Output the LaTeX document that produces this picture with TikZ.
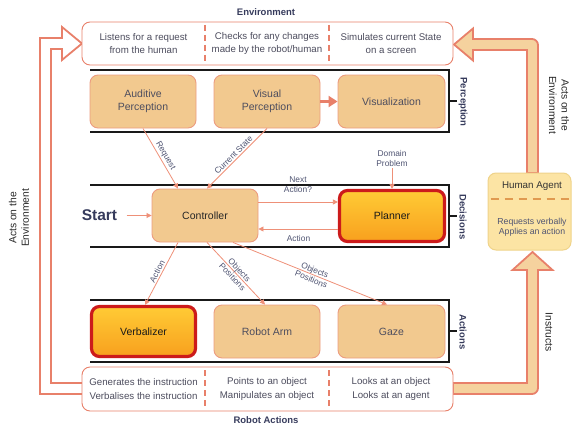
\documentclass[tikz,border=0pt]{standalone}
\usepackage{fontspec}
\setmainfont{Liberation Sans}
\usetikzlibrary{arrows.meta}
\definecolor{salmon}{HTML}{E8806A}
\definecolor{lsalmon}{HTML}{EE9078}
\definecolor{nodefill}{HTML}{F2C98F}
\definecolor{nodeborder}{HTML}{EC9C80}
\definecolor{arrfill}{HTML}{F5D29E}
\definecolor{hafill}{HTML}{FCE4A4}
\definecolor{haborder}{HTML}{EFD38A}
\definecolor{hotred}{HTML}{CC1B1B}
\definecolor{gradtop}{HTML}{FFCB35}
\definecolor{gradbot}{HTML}{F8A01E}
\definecolor{navy}{HTML}{363B5C}
\definecolor{txtgray}{HTML}{4D4D5E}
\definecolor{labcol}{HTML}{4F5472}
\definecolor{dashor}{HTML}{E09A50}
\begin{document}
\begin{tikzpicture}[x=1pt,y=-1pt,
  mod/.style={draw=nodeborder, fill=nodefill, rounded corners=8pt, minimum width=106pt, minimum height=53pt,
    font=\fontsize{10.5}{13}\selectfont, text=txtgray, align=center, line width=0.9pt},
  hot/.style={mod, draw=hotred, line width=3.2pt, top color=gradtop, bottom color=gradbot, text=black!90},
  infobox/.style={draw=salmon, fill=white, rounded corners=8pt, line width=0.9pt},
  info/.style={font=\fontsize{9.7}{13.3}\selectfont, text=txtgray, align=center},
  divider/.style={draw=salmon, line width=2pt, dash pattern=on 6pt off 4pt},
  bar/.style={draw=black!90, line width=1.6pt},
  conn/.style={draw=lsalmon, line width=0.8pt, -{Triangle[length=5pt,width=5pt]}},
  lab/.style={font=\fontsize{8.4}{9.6}\selectfont, text=labcol, align=center, inner sep=1.5pt},
  sidelab/.style={font=\bfseries\fontsize{9.5}{11}\selectfont, text=navy},
  outlab/.style={font=\fontsize{10.3}{12.5}\selectfont, text=black!85, align=center},
  bigarrow/.style={draw=salmon, fill=arrfill, line width=1.8pt, line join=miter},
  hollowarrow/.style={draw=salmon, fill=white, line width=1.8pt, line join=miter}
]
\useasboundingbox (0,0) rectangle (572,428);

% ---- left hollow arrow (Acts on the Environment) ----
\path[hollowarrow] (82,394) -- (40,394) -- (40,38) -- (62,38) -- (62,27) -- (82,43.5) -- (62,60) -- (62,49) -- (51,49) -- (51,383) -- (82,383);
\node[outlab, rotate=90] (leftacts) at (19,218) {Acts on the\\Environment};

% ---- right big arrows ----
\path[bigarrow] (527,173) -- (527,50) -- (473,50) -- (473,60.5) -- (454,44.5) -- (473,28.5) -- (473,39) -- (532,39)
  .. controls (535.3,39) and (538,41.7) .. (538,45) -- (538,173) -- cycle;
\path[bigarrow] (453,383) -- (527,383) -- (527,270) -- (512.5,270) -- (532.5,252) -- (552.5,270) -- (538,270) -- (538,388)
  .. controls (538,391.3) and (535.3,394) .. (532,394) -- (453,394) -- cycle;
\node[outlab, rotate=-90] (rightacts) at (559,105) {Acts on the\\Environment};
\node[outlab, rotate=-90] (instructs) at (549,332) {Instructs};

% ---- Human agent ----
\node[draw=haborder, fill=hafill, rounded corners=8pt, line width=1pt, minimum width=83pt, minimum height=77pt, inner sep=0pt] (ha) at (529.5,211.5) {};
\node[font=\fontsize{9.8}{12}\selectfont, text=black!80] (hatitle) at (532,186) {Human Agent};
\draw[draw=dashor, line width=2pt, dash pattern=on 8pt off 6pt] ([xshift=3pt]ha.west |- 0,199) coordinate (hadash) -- (571,199);
\node[font=\fontsize{8.7}{9.8}\selectfont, text=labcol, align=center] (hatext) at (532,227.5) {Requests verbally\\Applies an action};

% ---- Environment box ----
\draw[infobox] (82,22) rectangle (453,65);
\node[info] (env1) at (143.5,43.5) {Listens for a request\\from the human};
\node[info] (env2) at (267,43.5) {Checks for any changes\\made by the robot/human};
\node[info] (env3) at (391,43.5) {Simulates current State\\on a screen};
\draw[divider] (205,25) -- (205,63);
\draw[divider] (329,25) -- (329,63);
\node[sidelab] (envlab) at (266,12.5) {Environment};

% ---- Robot actions box ----
\draw[infobox] (82,367) rectangle (453,411);
\node[info] (ra1) at (143.5,389) {Generates the instruction\\Verbalises the instruction};
\node[info] (ra2) at (267,389) {Points to an object\\Manipulates an object};
\node[info] (ra3) at (391,389) {Looks at an object\\Looks at an agent};
\draw[divider] (205,370) -- (205,409);
\draw[divider] (329,370) -- (329,409);
\node[sidelab] (ralab) at (266,420.5) {Robot Actions};

% ---- Bars ----
\draw[bar] (90,70) -- (449,70) -- (449,132) -- (90,132);
\draw[bar] (449,101) -- (457,101);
\node[sidelab, rotate=-90] (perclab) at (463,102) {Perception};
\draw[bar] (90,185) -- (449,185) -- (449,247) -- (90,247);
\draw[bar] (449,216) -- (457,216);
\node[sidelab, rotate=-90] (declab) at (463,217) {Decisions};
\draw[bar] (90,300) -- (449,300) -- (449,362) -- (90,362);
\draw[bar] (449,331) -- (457,331);
\node[sidelab, rotate=-90] (actlab) at (463,332) {Actions};

% ---- Modules ----
\node[mod] (aud) at (143,101.5) {Auditive\\Perception};
\node[mod] (vis) at (267,101.5) {Visual\\Perception};
\node[mod, minimum width=107pt] (visz) at (391.5,101.5) {Visualization};
\node[mod, text=black!85] (ctrl) at (205,215.5) {Controller};
\node[hot, minimum width=105pt, minimum height=51pt] (plan) at (392,216) {Planner};
\node[hot, minimum width=104pt, minimum height=50pt] (verb) at (143.5,331.5) {Verbalizer};
\node[mod] (arm) at (267,331.5) {Robot Arm};
\node[mod, minimum width=107pt] (gaze) at (391.5,331.5) {Gaze};

% ---- Start ----
\node[font=\bfseries\fontsize{15.5}{18}\selectfont, text=navy] (start) at (99.5,215.5) {Start};
\draw[conn] ([xshift=6pt]start.east) -- (ctrl.west);

% ---- Domain problem ----
\node[lab] (dom) at (392,158.5) {Domain\\Problem};
\draw[conn] (dom.south) -- (plan.north);

% ---- Connectors ----
\draw[salmon, line width=3pt, -{Triangle[length=9pt,width=11pt]}] (vis.east) -- (visz.west);
\draw[conn] (aud.south) -- node[lab, sloped, above] (reqlab) {Request} ([xshift=-27pt]ctrl.north);
\draw[conn] (vis.south) -- node[lab, sloped, above] (cslab) {Current State} ([xshift=2pt]ctrl.north);
\draw[conn] ([yshift=13.5pt]ctrl.east) -- ([yshift=14pt]plan.west);
\node[lab] (nextlab) at (298,184.5) {Next\\Action?};
\draw[conn] ([yshift=-13pt]plan.west) -- ([yshift=-13.5pt]ctrl.east);
\node[lab] (actionlab) at (298.5,238) {Action};
\draw[conn] ([xshift=-27pt]ctrl.south) -- node[lab, sloped, above] (actlab2) {Action} ([xshift=1.5pt]verb.north);
\draw[conn] ([xshift=2pt]ctrl.south) -- node[lab, sloped] (oplab1) {Objects\\Positions} ([xshift=-2pt]arm.north);
\draw[conn] ([xshift=28pt]ctrl.south) -- node[lab, sloped, pos=0.52] (oplab2) {Objects\\Positions} ([xshift=-4.5pt]gaze.north);
\end{tikzpicture}
\end{document}
